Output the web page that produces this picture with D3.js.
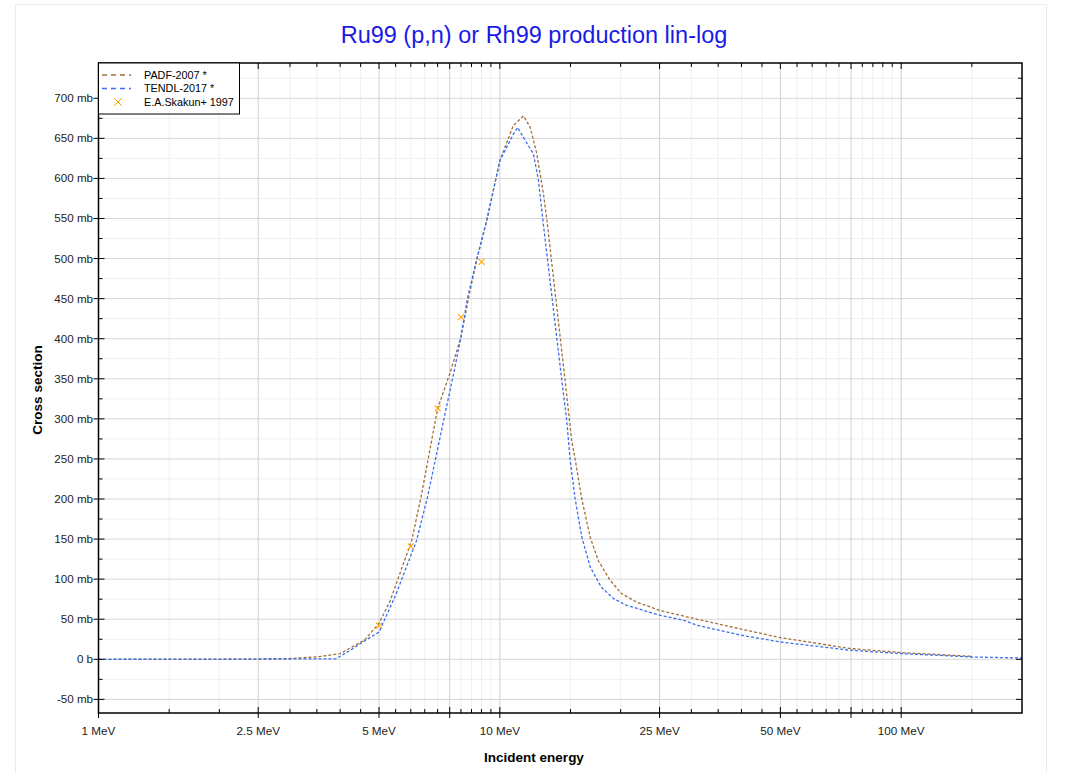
<!DOCTYPE html>
<html><head><meta charset="utf-8">
<script src="https://cdn.jsdelivr.net/npm/d3@7"></script>
<style>body{margin:0;background:#fff;}svg{display:block;font-family:"Liberation Sans",Arial,sans-serif;}</style>
</head><body><svg id="c" width="1071" height="773"></svg>
<script>
const padfE = [1, 2, 2.5, 3, 3.5, 4, 4.6, 5, 5.33, 6.03, 6.36, 7.0, 7.5, 8, 8.35, 8.75, 9.28, 10, 10.8, 11.45, 11.9, 12.36, 12.84, 13.1, 14.54, 15.1, 15.4, 16, 16.8, 17.6, 18.8, 20.1, 21.9, 25, 30.4, 39.7, 50, 75, 100, 150];
const padfXS = [0, 0, 0.3, 1, 3, 7, 24, 45, 73, 148, 202, 313, 356, 402, 450, 498, 548, 622, 666, 678, 664, 631, 581, 548, 348, 273, 250, 200, 152, 123, 99, 82, 71.5, 61, 51, 38, 27, 13.3, 8.4, 3.7];
const tendlE = [1, 3.9, 4.2, 4.6, 5, 5.5, 6.2, 6.6, 7.35, 7.67, 8, 8.3, 8.75, 9.28, 10, 10.8, 11.08, 11.56, 12.12, 12.48, 12.8, 14.27, 14.68, 14.96, 15.4, 16, 16.8, 17.9, 19.2, 20.7, 25, 28.7, 31, 40, 50, 75, 100, 150, 200];
const tendlXS = [0, 0.5, 10, 23, 34, 80, 148, 202, 313, 356, 402, 450, 498, 548, 622, 655, 663.5, 647.6, 631, 597.7, 548, 348, 298, 250, 200.5, 152.6, 115, 90, 75.7, 67.4, 55, 48.7, 42.4, 30, 21.6, 11.2, 7.1, 2.9, 1.6];
const expE = [5, 6, 7, 8, 9];
const expXS = [42, 141, 313, 427, 496];
const xLabelTicks = [1, 2.5, 5, 10, 25, 50, 100];
const xLabelText = ["1 MeV", "2.5 MeV", "5 MeV", "10 MeV", "25 MeV", "50 MeV", "100 MeV"];
const xMajorExtra = [7.5, 75];
const xMinorTicks = [1.5, 2, 3, 3.5, 4, 4.5, 5.5, 6, 6.5, 7, 8, 8.5, 9, 9.5, 15, 20, 30, 35, 40, 45, 55, 60, 65, 70, 80, 85, 90, 95, 150];
const yMajorTicks = [-50, 0, 50, 100, 150, 200, 250, 300, 350, 400, 450, 500, 550, 600, 650, 700];
const yMinorTicks = [-25, 25, 75, 125, 175, 225, 275, 325, 375, 425, 475, 525, 575, 625, 675, 725];
const seriesNames = ["PADF-2007 *", "TENDL-2017 *", "E.A.Skakun+ 1997"];
const seriesColors = ["#a0703a", "#3a6ff0", "#ffa500"];

const svg = d3.select("#c");
const L = 98.5, R = 1022, T = 63, B = 713;
const x = d3.scaleLog().domain([1, 200]).range([L, R]);
const y = d3.scaleLinear().domain([-67, 744]).range([B, T]);

svg.append("rect").attr("x", 15.5).attr("y", 4.5).attr("width", 1031).attr("height", 790)
  .attr("fill", "none").attr("stroke", "#ececec");

svg.append("text").attr("x", 534).attr("y", 43).attr("text-anchor", "middle")
  .attr("font-size", 23.5).attr("fill", "#1a1ae6").text("Ru99 (p,n) or Rh99 production lin-log");

const g = svg.append("g");
g.selectAll(".xmin").data(xMinorTicks).join("line")
  .attr("x1", d => x(d)).attr("x2", d => x(d)).attr("y1", T).attr("y2", B)
  .attr("stroke", "#efefef").attr("stroke-width", 1);
g.selectAll(".ymin").data(yMinorTicks).join("line")
  .attr("x1", L).attr("x2", R).attr("y1", d => y(d)).attr("y2", d => y(d))
  .attr("stroke", "#f0f0f0").attr("stroke-width", 1);
g.selectAll(".xmaj").data(xLabelTicks.concat(xMajorExtra)).join("line")
  .attr("x1", d => x(d)).attr("x2", d => x(d)).attr("y1", T).attr("y2", B)
  .attr("stroke", "#cfcfcf").attr("stroke-width", 1);
g.selectAll(".ymaj").data(yMajorTicks).join("line")
  .attr("x1", L).attr("x2", R).attr("y1", d => y(d)).attr("y2", d => y(d))
  .attr("stroke", "#d6d6d6").attr("stroke-width", 1);

const line = d3.line().x(d => x(d[0])).y(d => y(d[1]));
const padf = padfE.map((e, i) => [e, padfXS[i]]);
const tendl = tendlE.map((e, i) => [e, tendlXS[i]]);
svg.append("clipPath").attr("id", "cp").append("rect").attr("x", L).attr("y", T).attr("width", R - L).attr("height", B - T);
const pg = svg.append("g").attr("clip-path", "url(#cp)");
pg.append("path").datum(padf).attr("d", line).attr("fill", "none")
  .attr("stroke", seriesColors[0]).attr("stroke-width", 1.3).attr("stroke-dasharray", "3,2");
pg.append("path").datum(tendl).attr("d", line).attr("fill", "none")
  .attr("stroke", seriesColors[1]).attr("stroke-width", 1.3).attr("stroke-dasharray", "3,2");
const s = 3;
expE.forEach((e, i) => {
  const cx = x(e), cy = y(expXS[i]);
  pg.append("path").attr("d", `M${cx - s},${cy - s}L${cx + s},${cy + s}M${cx - s},${cy + s}L${cx + s},${cy - s}`)
    .attr("stroke", seriesColors[2]).attr("stroke-width", 1.1).attr("fill", "none");
});

svg.append("rect").attr("x", L).attr("y", T).attr("width", R - L).attr("height", B - T)
  .attr("fill", "none").attr("stroke", "#000").attr("stroke-width", 1.5);

const tk = svg.append("g").attr("stroke", "#000").attr("stroke-width", 1);
xLabelTicks.concat(xMajorExtra).forEach(d => {
  tk.append("line").attr("x1", x(d)).attr("x2", x(d)).attr("y1", B - 6).attr("y2", B + 5);
  tk.append("line").attr("x1", x(d)).attr("x2", x(d)).attr("y1", T).attr("y2", T + 6);
});
xMinorTicks.forEach(d => {
  tk.append("line").attr("x1", x(d)).attr("x2", x(d)).attr("y1", B - 4).attr("y2", B);
  tk.append("line").attr("x1", x(d)).attr("x2", x(d)).attr("y1", T).attr("y2", T + 4);
});
yMajorTicks.forEach(d => {
  tk.append("line").attr("x1", L - 5).attr("x2", L + 6).attr("y1", y(d)).attr("y2", y(d));
  tk.append("line").attr("x1", R - 6).attr("x2", R).attr("y1", y(d)).attr("y2", y(d));
});
yMinorTicks.forEach(d => {
  tk.append("line").attr("x1", L).attr("x2", L + 4).attr("y1", y(d)).attr("y2", y(d));
  tk.append("line").attr("x1", R - 4).attr("x2", R).attr("y1", y(d)).attr("y2", y(d));
});

svg.selectAll(".xl").data(xLabelTicks).join("text")
  .attr("x", d => x(d)).attr("y", 735).attr("text-anchor", "middle")
  .attr("font-size", 11.7).attr("fill", "#222").text((d, i) => xLabelText[i]);
svg.selectAll(".yl").data(yMajorTicks).join("text")
  .attr("x", 93).attr("y", d => y(d) + 4).attr("text-anchor", "end")
  .attr("font-size", 11.6).attr("fill", "#222").text(d => d === 0 ? "0 b" : d + " mb");

svg.append("text").attr("x", 534).attr("y", 762).attr("text-anchor", "middle")
  .attr("font-size", 13.5).attr("font-weight", "bold").text("Incident energy");
svg.append("text").attr("transform", "translate(42,390) rotate(-90)").attr("text-anchor", "middle")
  .attr("font-size", 13.5).attr("font-weight", "bold").text("Cross section");

const lg = svg.append("g");
lg.append("rect").attr("x", L).attr("y", T).attr("width", 141).attr("height", 51)
  .attr("fill", "#fff").attr("stroke", "#000").attr("stroke-width", 1);
const rowsY = [75, 88.5, 102];
[0, 1].forEach(i => {
  lg.append("line").attr("x1", 102).attr("x2", 131).attr("y1", rowsY[i]).attr("y2", rowsY[i])
    .attr("stroke", seriesColors[i]).attr("stroke-width", 1.5).attr("stroke-dasharray", "5,4");
});
{
  const cx = 118, cy = rowsY[2];
  lg.append("path").attr("d", `M${cx - 4},${cy - 4}L${cx + 4},${cy + 4}M${cx - 4},${cy + 4}L${cx + 4},${cy - 4}`)
    .attr("stroke", seriesColors[2]).attr("stroke-width", 1);
}
seriesNames.forEach((n, i) => {
  lg.append("text").attr("x", 144).attr("y", rowsY[i] + 3.8).attr("font-size", 10.8).attr("fill", "#000").text(n);
});
</script></body></html>
